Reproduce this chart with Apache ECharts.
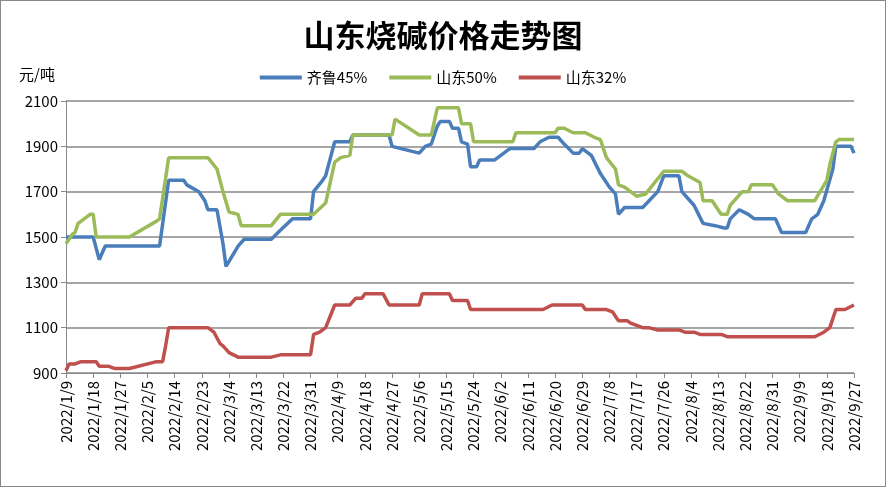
<!DOCTYPE html>
<html>
<head>
<meta charset="utf-8">
<script src="https://cdn.jsdelivr.net/npm/echarts@6/dist/echarts.min.js"></script>
<style>
  html, body { margin: 0; padding: 0; background: #fff; }
  #chart { width: 884px; height: 485px; border: 1px solid #888; }
</style>
</head>
<body>
<div id="chart"></div>
<script>
// Points (date, prix), reliés par la ligne
const qiluDates = ['1/9','1/18','1/20','1/22','2/9','2/12','2/17','2/18','2/22','2/24','2/25','2/28','3/2','3/3','3/7','3/9','3/18','3/21','3/25','3/31','4/1','4/4','4/5','4/8','4/13','4/14','4/26','4/27','5/6','5/8','5/10','5/12','5/13','5/16','5/17','5/19','5/20','5/22','5/23','5/25','5/26','5/31','6/3','6/5','6/13','6/15','6/18','6/21','6/23','6/26','6/28','6/29','7/2','7/5','7/8','7/10','7/11','7/13','7/19','7/24','7/26','7/31','8/1','8/3','8/5','8/8','8/12','8/15','8/16','8/17','8/20','8/23','8/25','9/1','9/3','9/11','9/13','9/15','9/17','9/20','9/21','9/26','9/27'];
const qiluValues = [1500,1500,1400,1460,1460,1750,1750,1730,1700,1660,1620,1620,1470,1370,1460,1490,1490,1530,1580,1580,1700,1750,1770,1920,1920,1950,1950,1900,1870,1900,1910,1990,2010,2010,1980,1980,1920,1910,1810,1810,1840,1840,1870,1890,1890,1920,1940,1940,1910,1870,1870,1890,1860,1780,1720,1690,1600,1630,1630,1700,1770,1770,1700,1670,1640,1560,1550,1540,1540,1580,1620,1600,1580,1580,1520,1520,1580,1600,1660,1800,1900,1900,1870];

const sd50Dates = ['1/9','1/11','1/12','1/13','1/15','1/17','1/18','1/19','1/30','2/8','2/9','2/12','2/25','2/28','3/1','3/2','3/4','3/7','3/8','3/18','3/21','4/1','4/5','4/8','4/10','4/13','4/14','4/27','4/28','5/6','5/10','5/12','5/19','5/20','5/23','5/24','6/6','6/7','6/20','6/21','6/23','6/26','6/30','7/3','7/5','7/7','7/10','7/11','7/13','7/17','7/20','7/26','8/1','8/3','8/7','8/8','8/11','8/14','8/16','8/17','8/21','8/23','8/24','8/31','9/2','9/5','9/14','9/18','9/19','9/21','9/22','9/27'];
const sd50Values = [1470,1510,1520,1560,1580,1600,1600,1500,1500,1570,1580,1850,1850,1800,1750,1700,1610,1600,1550,1550,1600,1600,1650,1830,1850,1860,1950,1950,2020,1950,1950,2070,2070,2000,2000,1920,1920,1960,1960,1980,1980,1960,1960,1940,1930,1850,1800,1730,1720,1680,1690,1790,1790,1770,1740,1660,1660,1600,1600,1640,1700,1700,1730,1730,1690,1660,1660,1750,1820,1920,1930,1930];

const sd32Dates = ['1/9','1/10','1/12','1/14','1/19','1/20','1/23','1/25','1/30','2/8','2/10','2/11','2/12','2/25','2/27','3/1','3/2','3/4','3/7','3/18','3/21','3/31','4/1','4/3','4/5','4/8','4/13','4/15','4/17','4/18','4/24','4/26','5/6','5/7','5/16','5/17','5/22','5/23','6/16','6/19','6/29','6/30','7/7','7/9','7/11','7/14','7/15','7/19','7/21','7/24','7/31','8/2','8/5','8/7','8/14','8/16','9/14','9/17','9/19','9/21','9/24','9/27'];
const sd32Values = [910,940,940,950,950,930,930,920,920,950,950,1020,1100,1100,1080,1030,1020,990,970,970,980,980,1070,1080,1100,1200,1200,1230,1230,1250,1250,1200,1200,1250,1250,1220,1220,1180,1180,1200,1200,1180,1180,1170,1130,1130,1120,1100,1100,1090,1090,1080,1080,1070,1070,1060,1060,1080,1100,1180,1180,1200];

// Axe des x : tous les jours du 2022/1/9 au 2022/9/27
const jours = [];
for (let t = Date.UTC(2022, 0, 9); t <= Date.UTC(2022, 8, 27); t += 86400000) {
  const d = new Date(t);
  jours.push(`${d.getUTCMonth() + 1}/${d.getUTCDate()}`);
}

function construireSerie(dates, valeurs) {
  const data = jours.map(() => null);
  dates.forEach((d, i) => { data[jours.indexOf(d)] = valeurs[i]; });
  return data;
}

const chart = echarts.init(document.getElementById('chart'));
const serieStyle = (name, color, dates, values) => ({
  name: name,
  type: 'line',
  connectNulls: true,
  showSymbol: false,
  lineStyle: { color: color, width: 3.5 },
  itemStyle: { color: color },
  data: construireSerie(dates, values)
});

chart.setOption({
  animation: false,
  textStyle: { fontFamily: 'Noto Sans CJK SC' },
  title: {
    text: '山东烧碱价格走势图',
    left: 'center',
    top: 14,
    textStyle: { fontSize: 31, fontWeight: 'bold', color: '#000', fontFamily: 'Noto Sans CJK SC' }
  },
  legend: {
    top: 64,
    left: 'center',
    itemWidth: 42,
    itemHeight: 4,
    itemGap: 22,
    icon: 'rect',
    textStyle: { fontSize: 15, color: '#000' },
    data: ['齐鲁45%', '山东50%', '山东32%']
  },
  graphic: [{
    type: 'text', left: 18, top: 66,
    style: { text: '元/吨', fontSize: 15, fill: '#000', fontFamily: 'Noto Sans CJK SC' }
  }],
  grid: { left: 65, right: 31, top: 100, bottom: 113 },
  xAxis: {
    type: 'category',
    boundaryGap: false,
    data: jours,
    axisLine: { lineStyle: { color: '#888' } },
    axisTick: { interval: 8, lineStyle: { color: '#888' } },
    axisLabel: {
      interval: 8,
      rotate: 90,
      fontSize: 15,
      color: '#000',
      formatter: v => '2022/' + v
    }
  },
  yAxis: {
    type: 'value',
    min: 900,
    max: 2100,
    interval: 200,
    axisLine: { show: true, lineStyle: { color: '#888' } },
    axisTick: { show: true, lineStyle: { color: '#888' } },
    axisLabel: { fontSize: 15, color: '#000', formatter: v => String(v) },
    splitLine: { lineStyle: { color: '#888', width: 1.5 } }
  },
  series: [
    serieStyle('齐鲁45%', '#4a7ebb', qiluDates, qiluValues),
    serieStyle('山东50%', '#9bbb59', sd50Dates, sd50Values),
    serieStyle('山东32%', '#c0504d', sd32Dates, sd32Values)
  ]
});
</script>
</body>
</html>
